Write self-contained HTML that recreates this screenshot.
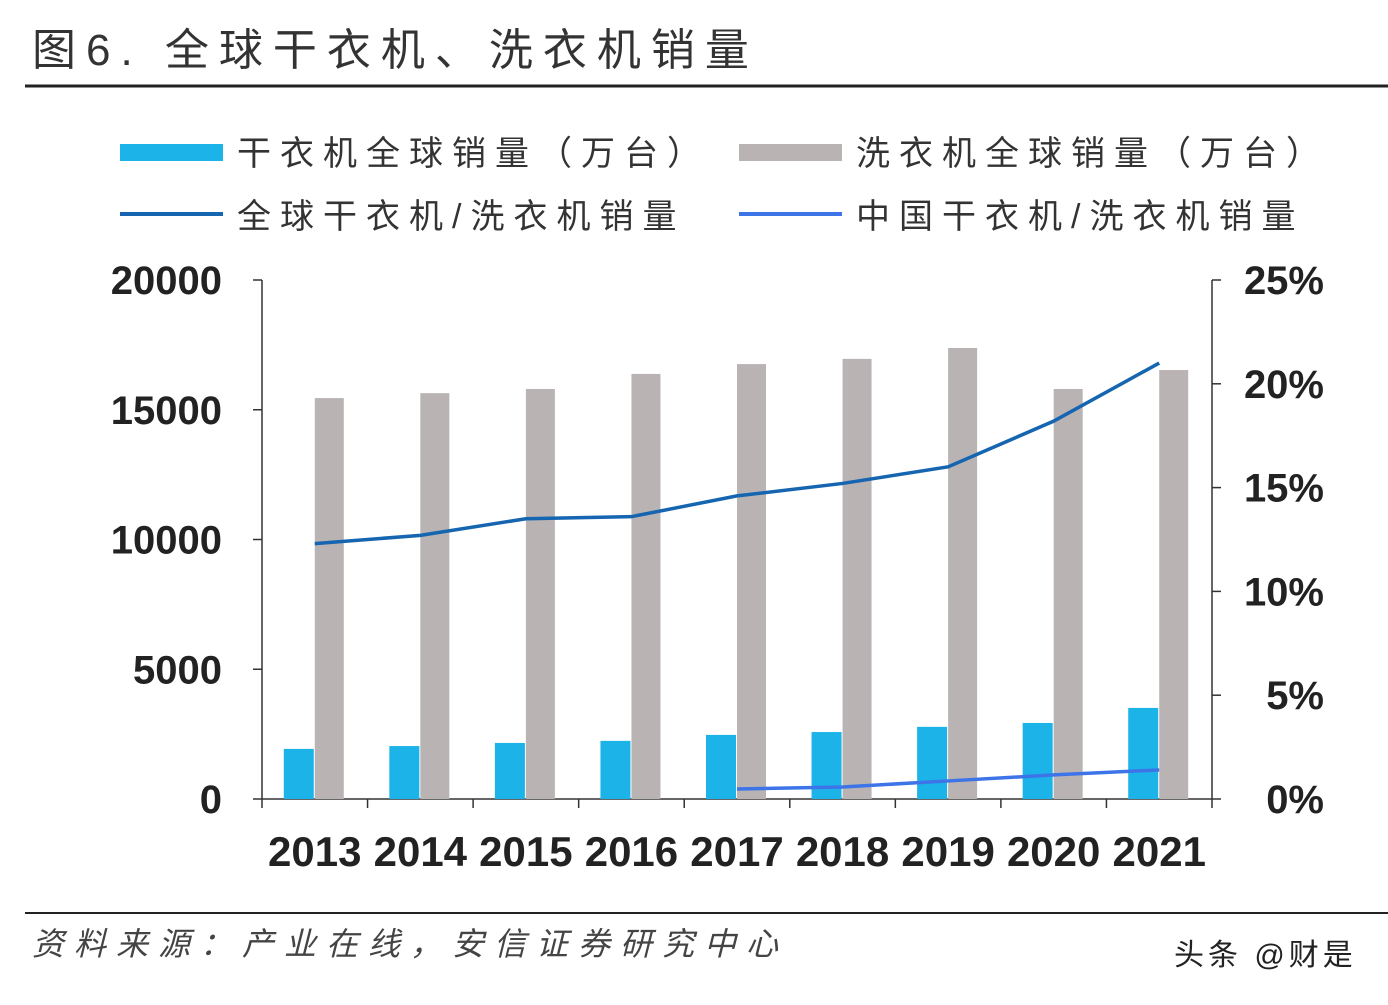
<!DOCTYPE html>
<html><head><meta charset="utf-8">
<style>
body{margin:0;width:1388px;height:1000px;background:#fff;overflow:hidden;font-family:"Liberation Sans","Noto Sans CJK SC",sans-serif;}
svg text{font-family:"Liberation Sans","Noto Sans CJK SC",sans-serif;}
</style></head>
<body>
<svg id="chart" width="1388" height="1000">
<text x="32" y="65" font-size="44" letter-spacing="10" fill="#333">图6. 全球干衣机、洗衣机销量</text>
<line x1="25" y1="86" x2="1388" y2="86" stroke="#222" stroke-width="3"/>
<g>
<rect x="120" y="144" width="103" height="17" fill="#1cb3e8"/>
<text x="237" y="165" font-size="34" letter-spacing="9" fill="#333">干衣机全球销量（万台）</text>
<rect x="739" y="144" width="103" height="17" fill="#b9b3b4"/>
<text x="856" y="165" font-size="34" letter-spacing="9" fill="#333">洗衣机全球销量（万台）</text>
<line x1="120" y1="214" x2="223" y2="214" stroke="#1565b0" stroke-width="4"/>
<text x="237" y="228" font-size="34" letter-spacing="9" fill="#333">全球干衣机/洗衣机销量</text>
<line x1="739" y1="214" x2="842" y2="214" stroke="#3d74e8" stroke-width="4"/>
<text x="856" y="228" font-size="34" letter-spacing="9" fill="#333">中国干衣机/洗衣机销量</text>
</g>
<g id="plot"></g>
<line x1="25" y1="913" x2="1388" y2="913" stroke="#222" stroke-width="2"/>
<text x="32" y="955" font-size="32" letter-spacing="10" font-style="italic" fill="#444">资料来源：产业在线，安信证券研究中心</text>
<text x="1174" y="965" font-size="30" letter-spacing="4" fill="#222">头条 @财是</text>
</svg>
<script>
const categories=["2013","2014","2015","2016","2017","2018","2019","2020","2021"];
const dryerSales=[1930,2040,2160,2240,2470,2580,2780,2930,3510];
const washerSales=[15450,15640,15800,16380,16760,16960,17380,15800,16530];
const globalRatio=[12.3,12.7,13.5,13.6,14.6,15.2,16.0,18.2,21.0];
const chinaYears=["2017","2018","2019","2020","2021"];
const chinaRatio=[0.48,0.58,0.87,1.16,1.4];
const leftTicks=[0,5000,10000,15000,20000];
const rightTicks=[0,5,10,15,20,25];

const X0=262,X1=1212,Y0=799,Y1=280;
const bw=(X1-X0)/categories.length;
const xC=i=>X0+bw*(i+0.5);
const yL=v=>Y0-(v/20000)*(Y0-Y1);
const yR=v=>Y0-(v/25)*(Y0-Y1);
const g=document.getElementById('plot');
const NS='http://www.w3.org/2000/svg';
function mk(t,a){const e=document.createElementNS(NS,t);for(const k in a)e.setAttribute(k,a[k]);g.appendChild(e);return e;}

let e;
e=mk('line',{x1:X0,y1:Y1,x2:X0,y2:Y0,stroke:'#333','stroke-width':1.5});


e=mk('line',{x1:X1,y1:Y1,x2:X1,y2:Y0,stroke:'#333','stroke-width':1.5});


e=mk('line',{x1:X0,y1:Y0,x2:X1,y2:Y0,stroke:'#333','stroke-width':1.5});



leftTicks.forEach(v=>{
 e=mk('line',{x1:X0-9,y1:yL(v),x2:X0,y2:yL(v),stroke:'#333','stroke-width':1.5});
 
 
 e=mk('text',{x:222,y:yL(v)+14,'font-size':40,'font-weight':'bold','text-anchor':'end',fill:'#222'});
 e.textContent=v;
 
 
});
rightTicks.forEach(v=>{
 e=mk('line',{x1:X1,y1:yR(v),x2:X1+9,y2:yR(v),stroke:'#333','stroke-width':1.5});
 
 
 e=mk('text',{x:1324,y:yR(v)+14,'font-size':40,'font-weight':'bold','text-anchor':'end',fill:'#222'});
 e.textContent=v+'%';
 
 
});
for(let i=0;i<=categories.length;i++){
 e=mk('line',{x1:X0+bw*i,y1:Y0,x2:X0+bw*i,y2:Y0+9,stroke:'#333','stroke-width':1.5});
 
 
}
categories.forEach((c,i)=>{
 e=mk('text',{x:xC(i),y:866,'font-size':42,'font-weight':'bold','text-anchor':'middle',fill:'#222'});
 e.textContent=c;
 
 
 e=mk('rect',{x:xC(i)-31,y:yL(dryerSales[i]),width:30,height:Y0-yL(dryerSales[i]),fill:'#1cb3e8'});
 
 
 e=mk('rect',{x:xC(i),y:yL(washerSales[i]),width:29,height:Y0-yL(washerSales[i]),fill:'#b9b3b4'});
 
 
});
e=mk('polyline',{points:globalRatio.map((v,i)=>xC(i)+','+yR(v)).join(' '),fill:'none',stroke:'#1565b0','stroke-width':3.5});


e=mk('polyline',{points:chinaRatio.map((v,i)=>xC(categories.indexOf(chinaYears[i]))+','+yR(v)).join(' '),fill:'none',stroke:'#3d74e8','stroke-width':3.5});


</script>
</body></html>
